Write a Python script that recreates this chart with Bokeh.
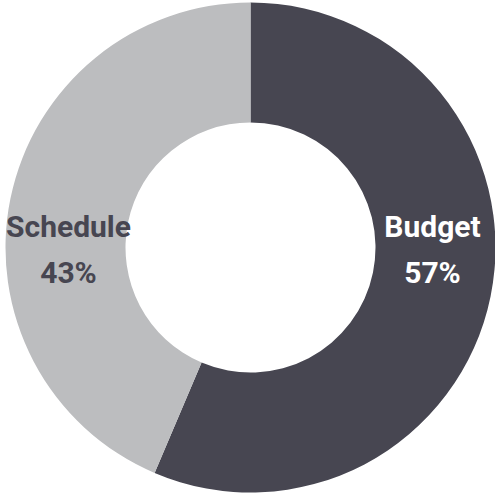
import math
from bokeh.plotting import figure
from bokeh.models import Range1d, ColumnDataSource
from bokeh.core.properties import value
from bokeh.embed import file_html
from bokeh.resources import INLINE

categories = ["Budget", "Schedule"]
shares = [56.4, 43.6]
pct_labels = ["57%", "43%"]
colors = ["#474651", "#bcbdbf"]
label_colors = ["#ffffff", "#474651"]

W, H = 495, 493
CX, CY = 250, 246
R_OUT, R_IN = 245, 125

total = sum(shares)
starts, ends = [], []
acc = 0.0
for s in shares:
    a0 = math.pi / 2 - 2 * math.pi * acc / total
    acc += s
    a1 = math.pi / 2 - 2 * math.pi * acc / total
    starts.append(a0)
    ends.append(a1)

src = ColumnDataSource(dict(cat=categories, start=starts, end=ends, color=colors,
                            x=[CX] * len(categories), y=[CY] * len(categories)))

p = figure(width=W, height=H, output_backend="svg", toolbar_location=None,
           x_range=Range1d(0, W), y_range=Range1d(0, H), min_border=0)
p.axis.visible = False
p.grid.visible = False
p.outline_line_color = None
p.background_fill_color = "white"

p.annular_wedge(x="x", y="y", inner_radius=R_IN, outer_radius=R_OUT,
                start_angle="start", end_angle="end", direction="clock",
                fill_color="color", line_color=None, source=src)

mid_r = (R_IN + R_OUT) / 2 - 3
lx = [CX + mid_r, CX - mid_r]
ly = [CY - 2, CY - 2]
texts = [f"{c}\n{t}" for c, t in zip(categories, pct_labels)]
p.text(x=lx, y=ly, text=texts, text_color=label_colors,
       text_align="center", text_baseline="middle",
       text_font=value("Roboto"),
       text_font_style="bold", text_font_size="30px", text_line_height=1.3)

open("out.html", "w").write(file_html(p, INLINE))
